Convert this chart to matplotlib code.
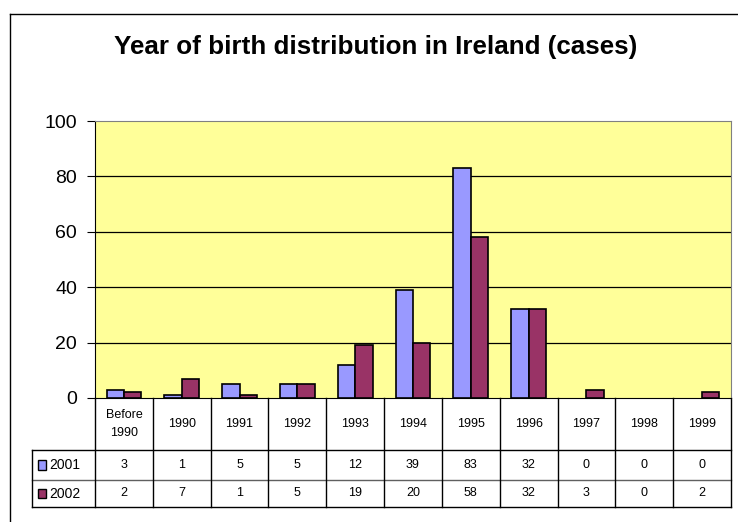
import matplotlib
matplotlib.use("Agg")
import matplotlib.pyplot as plt
from matplotlib.patches import Rectangle
from matplotlib.lines import Line2D

plt.rcParams['font.family'] = ['Liberation Sans', 'DejaVu Sans']

categories = ["Before\n1990", "1990", "1991", "1992", "1993", "1994",
              "1995", "1996", "1997", "1998", "1999"]
series_names = ["2001", "2002"]
cases_2001 = [3, 1, 5, 5, 12, 39, 83, 32, 0, 0, 0]
cases_2002 = [2, 7, 1, 5, 19, 20, 58, 32, 3, 0, 2]
colors = ["#9999FF", "#993366"]

W, H = 738, 522
fig = plt.figure(figsize=(W / 100, H / 100), dpi=100)

# outer chart frame (cropped at right and bottom)
fig.add_artist(Line2D([10 / W, 1], [1 - 14 / H, 1 - 14 / H], color="black", lw=1))
fig.add_artist(Line2D([10 / W, 10 / W], [0, 1 - 14 / H], color="black", lw=1))

left, right, top, bottom = 95, 731, 121, 398
ax = fig.add_axes([left / W, 1 - bottom / H, (right - left) / W, (bottom - top) / H])
ax.set_facecolor("#FFFF99")

x = list(range(len(categories)))
bw = 0.3
# zero values get no outline, like the original
edges_01 = ["black" if v else "none" for v in cases_2001]
edges_02 = ["black" if v else "none" for v in cases_2002]
ax.bar([i - bw / 2 for i in x], cases_2001, width=bw, color=colors[0],
       edgecolor=edges_01, linewidth=1.2, zorder=3)
ax.bar([i + bw / 2 for i in x], cases_2002, width=bw, color=colors[1],
       edgecolor=edges_02, linewidth=1.2, zorder=3)

ax.set_xlim(-0.5, len(categories) - 0.5)
ax.set_ylim(0, 100)
ax.set_yticks(range(0, 101, 20))
ax.tick_params(axis="y", labelsize=14, length=6, direction="out", pad=7)
ax.set_xticks([])
for v in range(20, 100, 20):
    ax.axhline(v, color="black", lw=0.9, zorder=1)
for s in ["top", "right"]:
    ax.spines[s].set_color("#808080")
ax.spines["left"].set_color("black")
ax.spines["bottom"].set_color("black")

fig.text(376 / W, 1 - 47 / H, "Year of birth distribution in Ireland (cases)",
         ha="center", va="center", fontsize=18.7, fontweight="bold")

# data table below the axes
tr = ax.get_xaxis_transform()
ph = bottom - top
y_head = -(450 - bottom) / ph
y_r1 = -(480 - bottom) / ph
y_r2 = -(507 - bottom) / ph
x_lab = -0.5 - (left - 32) / ((right - left) / len(categories))
xr = len(categories) - 0.5

def hline(y, x0, x1, c="black"):
    ax.add_line(Line2D([x0, x1], [y, y], color=c, lw=1, transform=tr, clip_on=False))

def vline(xx, y0, y1, c="black"):
    ax.add_line(Line2D([xx, xx], [y0, y1], color=c, lw=1, transform=tr, clip_on=False))

hline(y_head, x_lab, xr)
hline(y_r1, x_lab, xr, "#606060")
hline(y_r2, x_lab, xr)
vline(x_lab, y_head, y_r2)
for i in range(len(categories) + 1):
    vline(i - 0.5, 0, y_r2)

for i, c in enumerate(categories):
    ax.text(i, y_head / 2, c, transform=tr, ha="center", va="center",
            fontsize=9, linespacing=1.6)
    ax.text(i, (y_head + y_r1) / 2, str(cases_2001[i]), transform=tr,
            ha="center", va="center", fontsize=9)
    ax.text(i, (y_r1 + y_r2) / 2, str(cases_2002[i]), transform=tr,
            ha="center", va="center", fontsize=9)

rows_y = [(y_head + y_r1) / 2, (y_r1 + y_r2) / 2]
for name, col, yy in zip(series_names, colors, rows_y):
    sq = 0.14
    ax.add_patch(Rectangle((x_lab + 0.1, yy - 0.018), sq, 0.036, transform=tr,
                           facecolor=col, edgecolor="black", lw=1, clip_on=False))
    ax.text(x_lab + 0.3, yy, name, transform=tr, ha="left", va="center", fontsize=10)

fig.savefig("out.png", dpi=100)
